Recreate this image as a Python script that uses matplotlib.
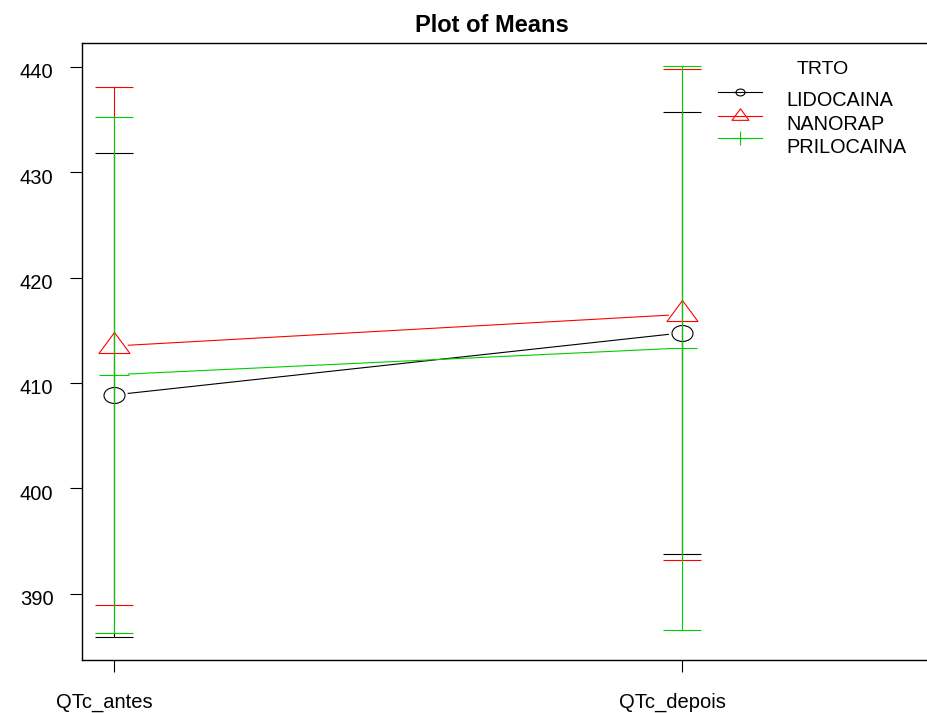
import numpy as np
import matplotlib
matplotlib.use("Agg")
import matplotlib.pyplot as plt
import matplotlib.transforms as mtrans
from matplotlib.path import Path
from matplotlib.lines import Line2D

plt.rcParams['font.family'] = ['Liberation Sans', 'DejaVu Sans']

# ---- data -------------------------------------------------------------
times = ["QTc_antes", "QTc_depois"]
groups = ["LIDOCAINA", "NANORAP", "PRILOCAINA"]
legend_title = "TRTO"
title = "Plot of Means"

lido_mean = [408.86, 414.75]
lido_err = [22.96, 20.94]
nano_mean = [413.50, 416.50]
nano_err = [24.60, 23.30]
prilo_mean = [410.78, 413.31]
prilo_err = [24.48, 26.72]

yticks = [390, 400, 410, 420, 430, 440]

# ---- styling ----------------------------------------------------------
W, H, DPI = 928, 713, 100
colors = ["#000000", "#FF0000", "#00CD00"]
PT = 72.0 / DPI  # points per pixel
FS = 14.5

circle = Path.unit_circle()
m_circle = Path(circle.vertices * np.array([1.0, 16.0 / 21.0]), circle.codes)
m_tri = Path([[-15.5, -7], [15.5, -7], [0, 14], [-15.5, -7]],
             [Path.MOVETO, Path.LINETO, Path.LINETO, Path.CLOSEPOLY])
m_plus = Path([[-15, 0], [15, 0], [0, -11.5], [0, 11.5]],
              [Path.MOVETO, Path.LINETO, Path.MOVETO, Path.LINETO])
markers = [m_circle, m_tri, m_plus]
msize = [21, 31, 30]          # pixels (widest dimension)
leg_msize = [9, 17, 17]

fig = plt.figure(figsize=(W / DPI, H / DPI), dpi=DPI)
left, bottom, top = 81.7, 660.0, 43.0
ax = fig.add_axes([left / W, 1 - bottom / H, (W - left) / W + 0.01, (bottom - top) / H])
x_pos = np.array([1.0, 2.0])
xr = 2.0 + (W - 682.3) / 568.0
ax.set_xlim(1.0 - (114.3 - left) / 568.0, xr + 0.01 * W / 568.0)
ax.set_ylim(383.71, 442.25)

for s in ["top", "left", "bottom"]:
    ax.spines[s].set_linewidth(1.0)
ax.spines["right"].set_visible(False)

ax.set_yticks(yticks)
ax.set_yticklabels([])
ax.tick_params(axis="y", direction="out", length=12 * PT, width=0.8)
ax.set_xticks(x_pos)
ax.set_xticklabels([])
ax.tick_params(axis="x", direction="out", length=11.7 * PT, width=0.8)

# y tick labels, right-aligned left of the ticks
ytrans = mtrans.blended_transform_factory(fig.transFigure, ax.transData) + \
    mtrans.ScaledTranslation(0, -4 / DPI, fig.dpi_scale_trans)
for v in yticks:
    fig.text(53.5 / W, v, str(v), transform=ytrans, ha="right",
             va="center_baseline", fontsize=FS)


def shorten(x0, y0, x1, y1, gap):
    p0, p1 = ax.transData.transform([[x0, y0], [x1, y1]])
    d = p1 - p0
    u = d / np.hypot(*d)
    q0, q1 = p0 + u * gap, p1 - u * gap
    inv = ax.transData.inverted()
    return inv.transform([q0, q1])


series = [(lido_mean, lido_err), (nano_mean, nano_err), (prilo_mean, prilo_err)]
for i, (m, e) in enumerate(series):
    c = colors[i]
    seg = shorten(x_pos[0], m[0], x_pos[1], m[1], 14)
    ax.plot(seg[:, 0], seg[:, 1], color=c, lw=0.8)
    ax.plot(x_pos, m, linestyle="none", marker=markers[i],
            markersize=msize[i] * PT, markerfacecolor="none",
            markeredgecolor=c, markeredgewidth=0.8)
    ax.errorbar(x_pos, m, yerr=e, fmt="none", ecolor=c, elinewidth=0.8,
                capsize=19 * PT, capthick=0.8)

# category labels under the ticks
xtrans = mtrans.blended_transform_factory(ax.transData, fig.transFigure) + \
    mtrans.ScaledTranslation(-10 / DPI, 0, fig.dpi_scale_trans)
for xp, name in zip(x_pos, times):
    ax.text(xp, 1 - 707.5 / H, name, transform=xtrans,
            ha="center", va="baseline", fontsize=FS)

# title
fig.text(492 / W, 1 - 32.0 / H, title, ha="center", va="baseline",
         fontsize=17, fontweight="bold")


# legend
def fpx(x, y):
    return x / W, 1 - y / H


fig.text(*fpx(797, 74), legend_title, ha="left", va="baseline", fontsize=14)
row_y = [91.7, 115.7, 138.0]
text_base = [105.7, 130.0, 153.3]
for i, g in enumerate(groups):
    c = colors[i]
    xa, ya = fpx(718, row_y[i])
    xb, _ = fpx(762, row_y[i])
    fig.add_artist(Line2D([xa, xb], [ya, ya], color=c, lw=0.8,
                          transform=fig.transFigure))
    fig.add_artist(Line2D([(xa + xb) / 2], [ya], linestyle="none",
                          marker=markers[i], markersize=leg_msize[i] * PT,
                          markerfacecolor="none", markeredgecolor=c,
                          markeredgewidth=0.8, transform=fig.transFigure))
    fig.text(*fpx(786.7, text_base[i]), g, ha="left", va="baseline",
             fontsize=14.3)

fig.savefig("out.png", dpi=DPI)
